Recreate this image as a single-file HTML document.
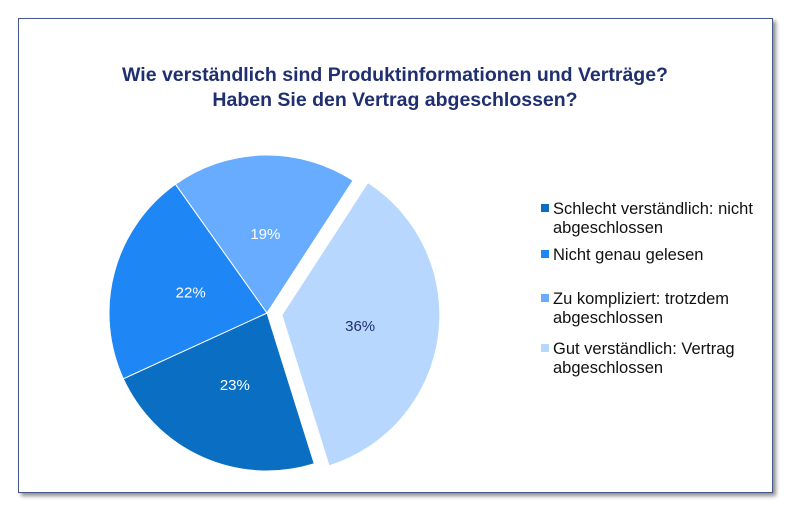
<!DOCTYPE html>
<html><head><meta charset="utf-8"><style>
body{margin:0;width:795px;height:510px;background:#fff;overflow:hidden;font-family:"Liberation Sans",sans-serif}
#frame{position:absolute;left:18px;top:18px;width:753px;height:473px;border:1.5px solid #44598a;box-shadow:3px 3px 4px rgba(0,0,0,0.45);background:#fff}
</style></head><body>
<div id="frame"></div>
<svg id="chart" width="795" height="510" style="position:absolute;left:0;top:0">
<text x="395" y="81" text-anchor="middle" font-size="19.5" font-weight="bold" fill="#1f2f6f">Wie verständlich sind Produktinformationen und Verträge?</text>
<text x="395" y="106" text-anchor="middle" font-size="19.5" font-weight="bold" fill="#1f2f6f">Haben Sie den Vertrag abgeschlossen?</text>
<g id="slices"></g>
<g id="legend"></g>
</svg>
<script>
const categories=["Gut verständlich: Vertrag abgeschlossen","Schlecht verständlich: nicht abgeschlossen","Nicht genau gelesen","Zu kompliziert: trotzdem abgeschlossen"];
const values=[36,23,22,19];
const labels=["36%","23%","22%","19%"];
const colors=["#b8d7ff","#0a6fc2","#1e86f5","#68acff"];
const textColors=["#1f2f6f","#fff","#fff","#fff"];
const explode=[15,0,0,0];
const legendOrder=[1,2,3,0];
const legendLines=[["Schlecht verständlich: nicht","abgeschlossen"],["Nicht genau gelesen"],["Zu kompliziert: trotzdem","abgeschlossen"],["Gut verständlich: Vertrag","abgeschlossen"]];
const NS="http://www.w3.org/2000/svg";
const cx=267,cy=313,r=158,start=33;
const total=values.reduce((a,b)=>a+b,0);
function pt(a,rad,ox,oy){const t=a*Math.PI/180;return [ox+rad*Math.sin(t),oy-rad*Math.cos(t)];}
let a=start;
const g=document.getElementById('slices');
values.forEach((v,i)=>{
  const sw=v/total*360, mid=a+sw/2;
  const [ox,oy]=pt(mid,explode[i],cx,cy);
  const p1=pt(a,r,ox,oy),p2=pt(a+sw,r,ox,oy);
  const path=document.createElementNS(NS,'path');
  path.setAttribute('d',`M${ox},${oy}L${p1[0]},${p1[1]}A${r},${r} 0 ${sw>180?1:0} 1 ${p2[0]},${p2[1]}Z`);
  path.setAttribute('fill',colors[i]);
  path.setAttribute('stroke','#fff');path.setAttribute('stroke-width','1');
  
  
  g.appendChild(path);
  const lp=pt(mid,r*0.5,ox,oy);
  const t=document.createElementNS(NS,'text');
  t.setAttribute('x',lp[0]);t.setAttribute('y',lp[1]+5);
  t.setAttribute('text-anchor','middle');t.setAttribute('font-size','15');
  t.setAttribute('fill',textColors[i]);
  t.textContent=labels[i];
  
  
  g.appendChild(t);
  a+=sw;
});
const lg=document.getElementById('legend');
const ys=[214,260,304,354];
legendOrder.forEach((idx,k)=>{
  const y=ys[k];
  const s=document.createElementNS(NS,'rect');
  s.setAttribute('x',541);s.setAttribute('y',y-10);s.setAttribute('width',8);s.setAttribute('height',8);
  s.setAttribute('fill',colors[idx]);
  
  
  lg.appendChild(s);
  legendLines[k].forEach((ln,j)=>{
    const t=document.createElementNS(NS,'text');
    t.setAttribute('x',553);t.setAttribute('y',y+j*19);
    t.setAttribute('font-size','16.5');t.setAttribute('fill','#111');
    t.textContent=ln;
    
    
    lg.appendChild(t);
  });
});
</script>
</body></html>
